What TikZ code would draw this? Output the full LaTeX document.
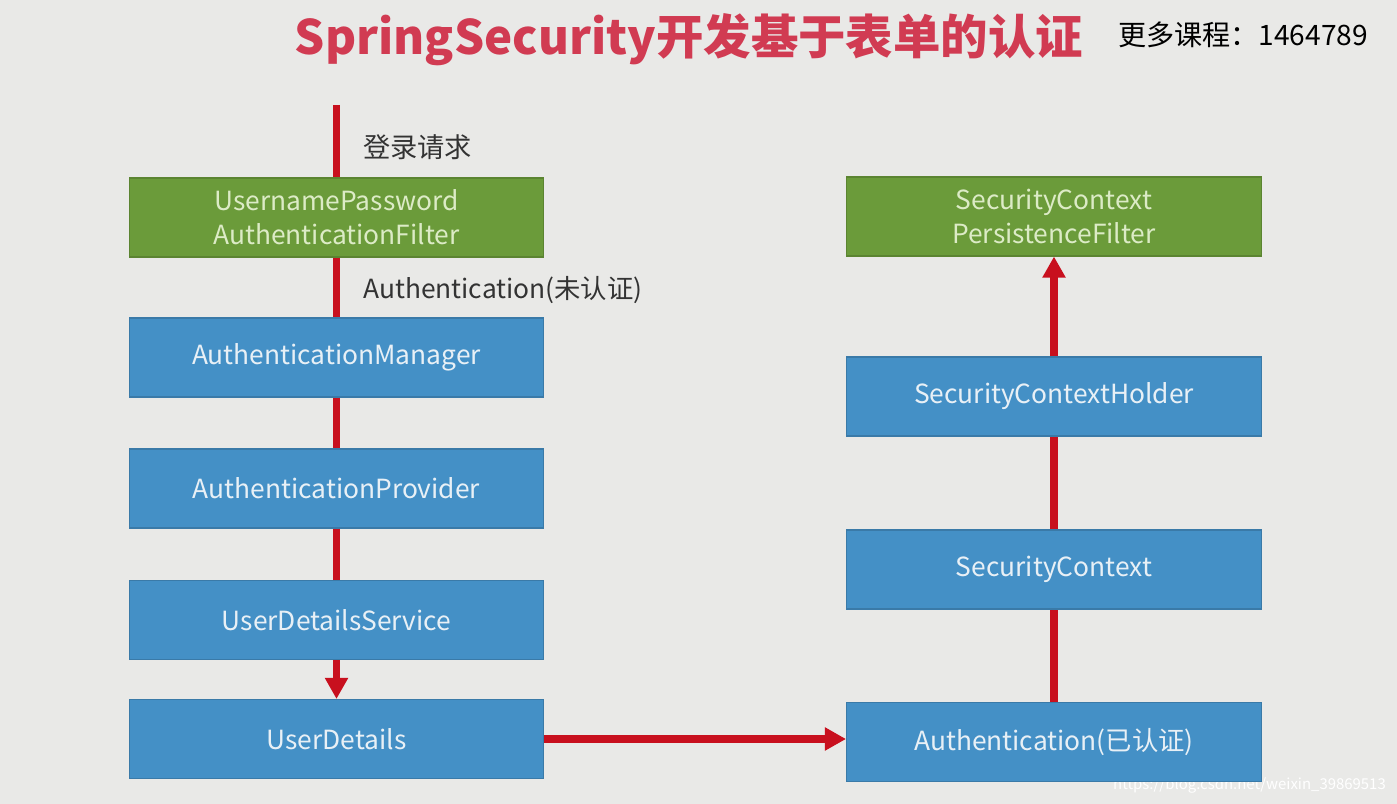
\documentclass[tikz,border=0pt]{standalone}
\usepackage{fontspec}
\setmainfont{Noto Sans CJK SC}
\usetikzlibrary{arrows.meta,positioning}
\definecolor{ink}{HTML}{333333}
\definecolor{paper}{HTML}{E9E9E7}
\definecolor{flowred}{HTML}{C8101E}
\definecolor{titlered}{HTML}{D13B52}
\definecolor{boxblue}{HTML}{4490C6}
\definecolor{boxgreen}{HTML}{6B9B3A}
\definecolor{pale}{HTML}{E8F0F6}
\definecolor{palegreen}{HTML}{DCEBC6}

\begin{document}
\begin{tikzpicture}[x=.02cm,y=-.02cm,>={Triangle[length=12pt,width=12.5pt]},
  font=\fontsize{15}{19.5}\selectfont,text=ink,
  box/.style={minimum width=8.3cm,minimum height=1.58cm,inner sep=0pt,align=center,line width=.6pt},
  bluebox/.style={box,fill=boxblue,draw=boxblue!85!black,text=pale},
  greenbox/.style={box,fill=boxgreen,draw=boxgreen!85!black,text=palegreen},
  flow/.style={line width=4pt,draw=flowred}]

\useasboundingbox (0,0) rectangle (1397,804);
\clip (0,0) rectangle (1397,804);
\fill[paper] (0,0) rectangle (1397,804);

% title and corner notes
\node[font=\fontsize{27}{30}\selectfont\bfseries,text=titlered] (title) at (689,40) {SpringSecurity开发基于表单的认证};
\node[anchor=west,font=\fontsize{16}{18}\selectfont,text=black] (more) at (1112,35) {更多课程：1464789};
\node[anchor=east,font=\fontsize{8.5}{10}\selectfont,text=white] (mark) at (1392,785) {https://blog.csdn.net/weixin\_39869513};

% left column: authentication
\coordinate (req) at (336.5,105);
\node[greenbox] (filter) at (336.5,217.5) {UsernamePassword\\AuthenticationFilter};
\node[bluebox] (manager) at (336.5,357.5) {AuthenticationManager};
\node[bluebox] (provider) at (336.5,488.5) {AuthenticationProvider};
\node[bluebox] (uds) at (336.5,620) {UserDetailsService};
\node[bluebox] (details) at (336.5,739) {UserDetails};

\node[anchor=west,font=\fontsize{15.5}{18}\selectfont] (reqlabel) at (357,147) {登录请求};
\node[anchor=west] (unauth) at (357,290) {Authentication(未认证)};

\draw[flow] (req)--(filter.north);
\draw[flow] (filter.south)--(manager.north);
\draw[flow] (manager.south)--(provider.north);
\draw[flow] (provider.south)--(uds.north);
\draw[flow,->] (uds.south)--(details.north);

% right column: security context
\node[greenbox] (persist) at (1054,216.5) {SecurityContext\\PersistenceFilter};
\node[bluebox] (holder) at (1054,396.5) {SecurityContextHolder};
\node[bluebox] (context) at (1054,569.5) {SecurityContext};
\node[bluebox] (authok) at (1054,742) {Authentication(已认证)};

\draw[flow,->] (details.east)--(details.east -| authok.west);
\draw[flow] (authok.north)--(context.south);
\draw[flow] (context.north)--(holder.south);
\draw[flow,->] (holder.north)--(persist.south);

\end{tikzpicture}
\end{document}
